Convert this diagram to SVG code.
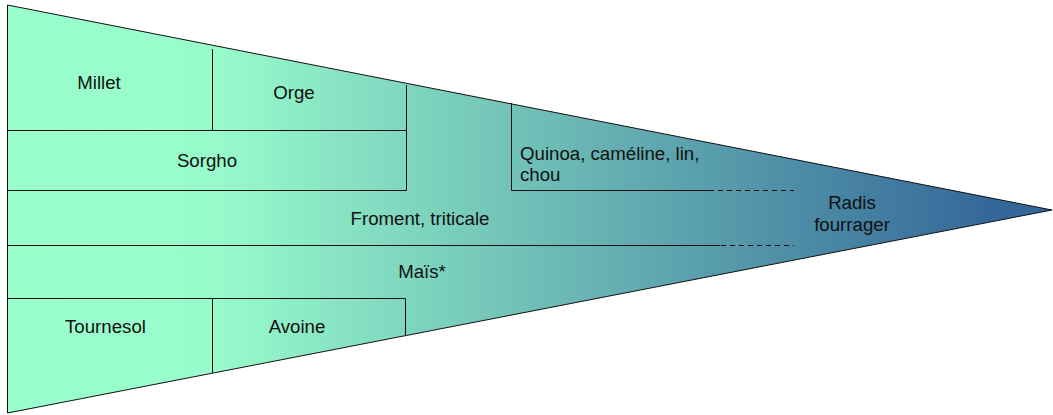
<svg xmlns="http://www.w3.org/2000/svg" width="1053" height="415" viewBox="0 0 1053 415">
  <defs>
    <linearGradient id="funnelGrad" gradientUnits="userSpaceOnUse" x1="7" y1="0" x2="1052" y2="0">
      <stop offset="0" stop-color="#99FFCC"/>
      <stop offset="0.2" stop-color="#98FBCB"/>
      <stop offset="0.95" stop-color="#336699"/>
      <stop offset="1" stop-color="#336699"/>
    </linearGradient>
  </defs>
  <style>
    .shape { fill: url(#funnelGrad); stroke: #111; stroke-width: 1; }
    .edge { fill: none; stroke: #111; stroke-width: 1; }
    .dash { fill: none; stroke: #111; stroke-width: 1; stroke-dasharray: 5 4; }
    .lbl { font-family: "Liberation Sans", Arial, sans-serif; font-size: 18.67px; fill: #111; text-anchor: middle; }
    .lbl-l { font-family: "Liberation Sans", Arial, sans-serif; font-size: 18.67px; fill: #111; text-anchor: start; }
  </style>

  <g id="funnel">
    <polygon class="shape" points="7.5,5 1052,210 7.5,413"/>
  </g>

  <g id="connectors">
    <line class="edge" x1="7.5" y1="130.5" x2="406.5" y2="130.5"/>
    <line class="edge" x1="212.5" y1="49" x2="212.5" y2="130.5"/>
    <line class="edge" x1="406.5" y1="85" x2="406.5" y2="190.5"/>
    <line class="edge" x1="7.5" y1="190.5" x2="406.5" y2="190.5"/>
    <line class="edge" x1="511.5" y1="103" x2="511.5" y2="190.5"/>
    <line class="edge" x1="511.5" y1="190.5" x2="712" y2="190.5"/>
    <line class="dash" x1="700" y1="190.5" x2="794" y2="190.5"/>
    <line class="edge" x1="7.5" y1="245.5" x2="720" y2="245.5"/>
    <line class="dash" x1="658" y1="245.5" x2="794" y2="245.5"/>
    <line class="edge" x1="7.5" y1="298.5" x2="405.5" y2="298.5"/>
    <line class="edge" x1="212.5" y1="298.5" x2="212.5" y2="373"/>
    <line class="edge" x1="405.5" y1="298.5" x2="405.5" y2="336"/>
  </g>

  <g id="millet"><text class="lbl" x="99" y="89">Millet</text></g>
  <g id="orge"><text class="lbl" x="294" y="99">Orge</text></g>
  <g id="sorgho"><text class="lbl" x="207" y="167">Sorgho</text></g>
  <g id="quinoa">
    <text class="lbl-l" x="520" y="160">Quinoa, caméline, lin,</text>
    <text class="lbl-l" x="520" y="181">chou</text>
  </g>
  <g id="froment"><text class="lbl" x="420" y="225">Froment, triticale</text></g>
  <g id="mais"><text class="lbl" x="422" y="278">Maïs*</text></g>
  <g id="tournesol"><text class="lbl" x="105.5" y="333">Tournesol</text></g>
  <g id="avoine"><text class="lbl" x="297" y="333">Avoine</text></g>
  <g id="radis">
    <text class="lbl" x="852" y="209">Radis</text>
    <text class="lbl" x="852" y="231">fourrager</text>
  </g>
</svg>
